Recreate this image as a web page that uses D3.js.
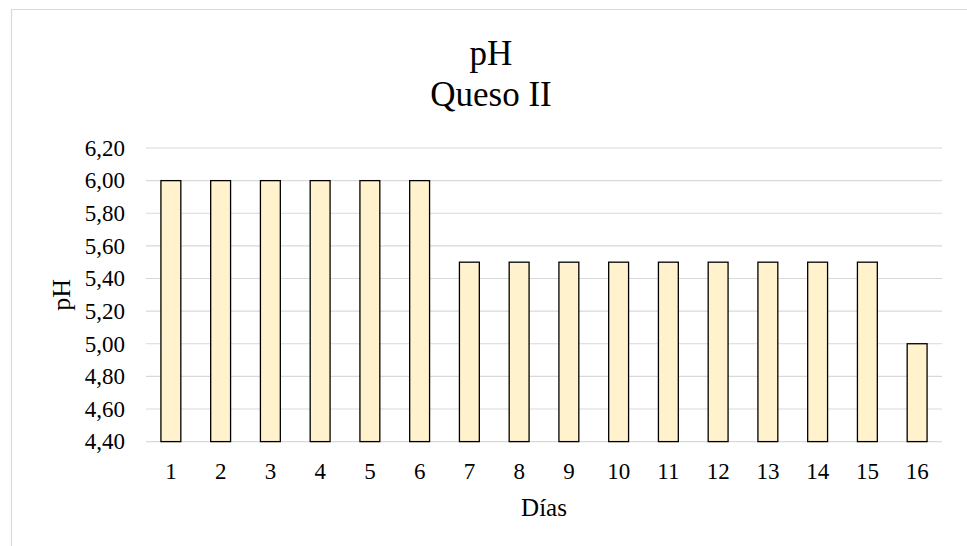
<!DOCTYPE html>
<html>
<head>
<meta charset="utf-8">
<script src="https://cdn.jsdelivr.net/npm/d3@7"></script>
<style>
  html, body { margin: 0; padding: 0; background: #fff; }
  svg { display: block; }
  svg text { font-family: "Liberation Serif", "Times New Roman", serif; fill: #000; }
</style>
</head>
<body>
<div id="chart"></div>
<script>
// pH readings for Queso II over 16 days
const days = ["1","2","3","4","5","6","7","8","9","10","11","12","13","14","15","16"];
const phValues = [6.00, 6.00, 6.00, 6.00, 6.00, 6.00, 5.50, 5.50, 5.50, 5.50, 5.50, 5.50, 5.50, 5.50, 5.50, 5.00];
const yTicks = [4.40, 4.60, 4.80, 5.00, 5.20, 5.40, 5.60, 5.80, 6.00, 6.20];
const titleLines = ["pH", "Queso II"];
const xTitle = "Días";
const yTitle = "pH";

const W = 967, H = 546;
const plot = { left: 146, right: 942, top: 148, bottom: 441.6 };

const svg = d3.select("#chart").append("svg")
  .attr("width", W).attr("height", H);

// chart frame
svg.append("path")
  .attr("d", `M11.5,${H} L11.5,9.5 L${W},9.5`)
  .attr("fill", "none")
  .attr("stroke", "#d9d9d9")
  .attr("stroke-width", 1.2);

const x = d3.scaleBand().domain(days).range([plot.left, plot.right]).paddingInner(0.6).paddingOuter(0.3);
const y = d3.scaleLinear().domain([4.40, 6.20]).range([plot.bottom, plot.top]);

const fmt = v => d3.format(".2f")(v).replace(".", ",");

// horizontal gridlines
svg.append("g").selectAll("line").data(yTicks).join("line")
  .attr("x1", plot.left).attr("x2", plot.right)
  .attr("y1", d => y(d)).attr("y2", d => y(d))
  .attr("stroke", "#d9d9d9").attr("stroke-width", 1.2);

// y axis labels
const yAxis = svg.append("g")
  .attr("transform", `translate(${plot.left},0)`)
  .call(d3.axisLeft(y).tickValues(yTicks).tickFormat(fmt).tickSize(0).tickPadding(21));
yAxis.attr("font-family", null).attr("font-size", null);
yAxis.select(".domain").remove();
yAxis.selectAll("text").style("font-size", "23px");

// bars
svg.append("g").selectAll("rect").data(phValues).join("rect")
  .attr("x", (d, i) => x(days[i]))
  .attr("width", x.bandwidth())
  .attr("y", d => y(d))
  .attr("height", d => y(4.40) - y(d))
  .attr("fill", "#fff2cc")
  .attr("stroke", "#000")
  .attr("stroke-width", 1.3);

// x axis labels
const xAxis = svg.append("g")
  .attr("transform", `translate(0,${plot.bottom})`)
  .call(d3.axisBottom(x).tickSize(0).tickPadding(21));
xAxis.attr("font-family", null).attr("font-size", null);
xAxis.select(".domain").remove();
xAxis.selectAll("text").style("font-size", "23px");

// chart title, two lines
svg.append("g").selectAll("text").data(titleLines).join("text")
  .attr("x", 491)
  .attr("y", (d, i) => 65 + i * 41)
  .attr("text-anchor", "middle")
  .style("font-size", "35px")
  .text(d => d);

svg.append("text")
  .attr("x", (plot.left + plot.right) / 2)
  .attr("y", 516)
  .attr("text-anchor", "middle")
  .style("font-size", "25px")
  .text(xTitle);

svg.append("text")
  .attr("transform", `translate(70,${(plot.top + plot.bottom) / 2}) rotate(-90)`)
  .attr("text-anchor", "middle")
  .style("font-size", "26px")
  .text(yTitle);
</script>
</body>
</html>
